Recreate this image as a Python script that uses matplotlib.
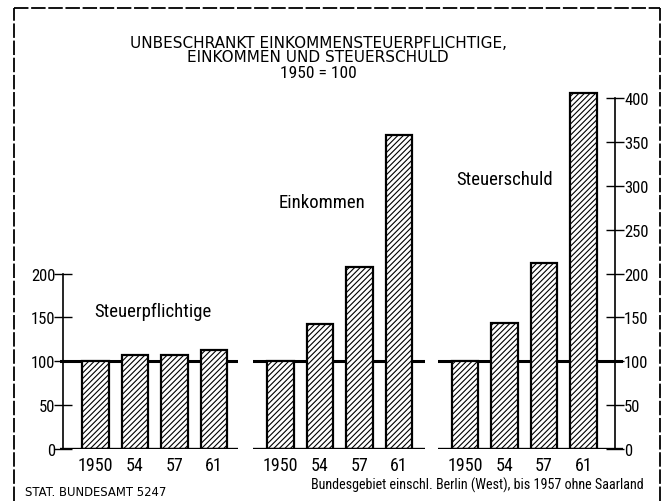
import numpy as np
import matplotlib
matplotlib.use("Agg")
import matplotlib.pyplot as plt
from matplotlib.lines import Line2D

###---data (1950 = 100)---###
years = ["1950", "54", "57", "61"]
steuerpflichtige = [100, 107, 107, 113]
einkommen = [100, 142, 207, 358]
steuerschuld = [100, 144, 212, 406]

panel_names = ["Steuerpflichtige", "Einkommen", "Steuerschuld"]
panel_values = [steuerpflichtige, einkommen, steuerschuld]
left_ticks = [0, 50, 100, 150, 200]
right_ticks = [0, 50, 100, 150, 200, 250, 300, 350, 400]

title_lines = ["UNBESCHRANKT EINKOMMENSTEUERPFLICHTIGE,",
               "EINKOMMEN UND STEUERSCHULD", "1950 = 100"]
source_left = "STAT. BUNDESAMT 5247"
source_right = "Bundesgebiet einschl. Berlin (West), bis 1957 ohne Saarland"

narrow = ["Roboto Condensed", "Liberation Sans Narrow", "Roboto", "DejaVu Sans"]
plt.rcParams['font.family'] = narrow
plt.rcParams['font.stretch'] = 'condensed'
plt.rcParams['hatch.linewidth'] = 0.8

W, H = 669, 502
fig = plt.figure(figsize=(W / 100, H / 100), dpi=100)

# layout in pixels: first bar centre, x range of panel
step = 39.5
panels = [(95.5, -0.9, 3.6), (280.5, -0.7, 3.65), (465.0, -0.68, 3.99)]
ymax = 420
y0_px = 450
ppu = 0.877

axes = []
for i, (c0, xlo, xhi) in enumerate(panels):
    left = (c0 + xlo * step) / W
    width = (xhi - xlo) * step / W
    bottom = 1 - y0_px / H
    height = ymax * ppu / H
    ax = fig.add_axes([left, bottom, width, height])
    ax.set_xlim(xlo, xhi)
    ax.set_ylim(0, ymax)
    ax.patch.set_visible(False)
    for s in ax.spines.values():
        s.set_visible(False)
    x = np.arange(len(years))
    ax.axhline(100, color="black", lw=2.2, zorder=1)
    ax.axhline(0, color="black", lw=2.4, zorder=3)
    ax.bar(x, panel_values[i], width=0.68, facecolor="white", edgecolor="black",
           lw=1.6, hatch="//////", zorder=2)
    ax.set_xticks(x)
    ax.set_xticklabels(years, fontsize=13)
    ax.tick_params(axis="x", length=0, pad=5)
    ax.set_yticks([])
    axes.append(ax)

# left scale
ax = axes[0]
ax.spines["left"].set_visible(True)
ax.spines["left"].set_position(("data", -0.82))
ax.spines["left"].set_bounds(0, 200)
ax.spines["left"].set_linewidth(1.2)
ax.set_yticks(left_ticks)
ax.set_yticklabels([str(t) for t in left_ticks], fontsize=12)
ax.tick_params(axis="y", direction="inout", length=13, width=1.0, pad=-1)

# right scale
ax = axes[2]
ax.spines["right"].set_visible(True)
ax.spines["right"].set_position(("data", 3.8))
ax.spines["right"].set_bounds(0, 400)
ax.spines["right"].set_linewidth(1.2)
ax.yaxis.set_ticks_position("right")
ax.set_yticks(right_ticks)
ax.set_yticklabels([str(t) for t in right_ticks], fontsize=12)
ax.tick_params(axis="y", direction="inout", length=13, width=1.0, pad=0)

# panel labels
fig.text(153 / W, 1 - 312 / H, panel_names[0], fontsize=13.5, ha="center", va="center")
fig.text(322 / W, 1 - 203 / H, panel_names[1], fontsize=13.5, ha="center", va="center")
fig.text(505 / W, 1 - 180 / H, panel_names[2], fontsize=13.5, ha="center", va="center")

# titles
fig.text(318 / W, 1 - 43 / H, title_lines[0], fontsize=11, family="DejaVu Sans",
         stretch="normal", ha="center", va="center")
fig.text(318 / W, 1 - 58 / H, title_lines[1], fontsize=11, family="DejaVu Sans",
         stretch="normal", ha="center", va="center")
fig.text(318 / W, 1 - 73 / H, title_lines[2], fontsize=12.5, ha="center", va="center")

fig.text(25 / W, 1 - 493 / H, source_left, fontsize=8.4, family="DejaVu Sans",
         stretch="normal", ha="left", va="center")
fig.text(644 / W, 1 - 485 / H, source_right, fontsize=10.2, ha="right", va="center")

# page frame
frame = dict(color="black", lw=1.3, linestyle=(0, (8, 1.5)))
fig.add_artist(Line2D([14 / W, 14 / W], [0, 1 - 9 / H], **frame))
fig.add_artist(Line2D([660 / W, 660 / W], [0, 1 - 9 / H], **frame))
fig.add_artist(Line2D([14 / W, 660 / W], [1 - 9 / H, 1 - 9 / H], **frame))

fig.savefig("out.png", dpi=100)
